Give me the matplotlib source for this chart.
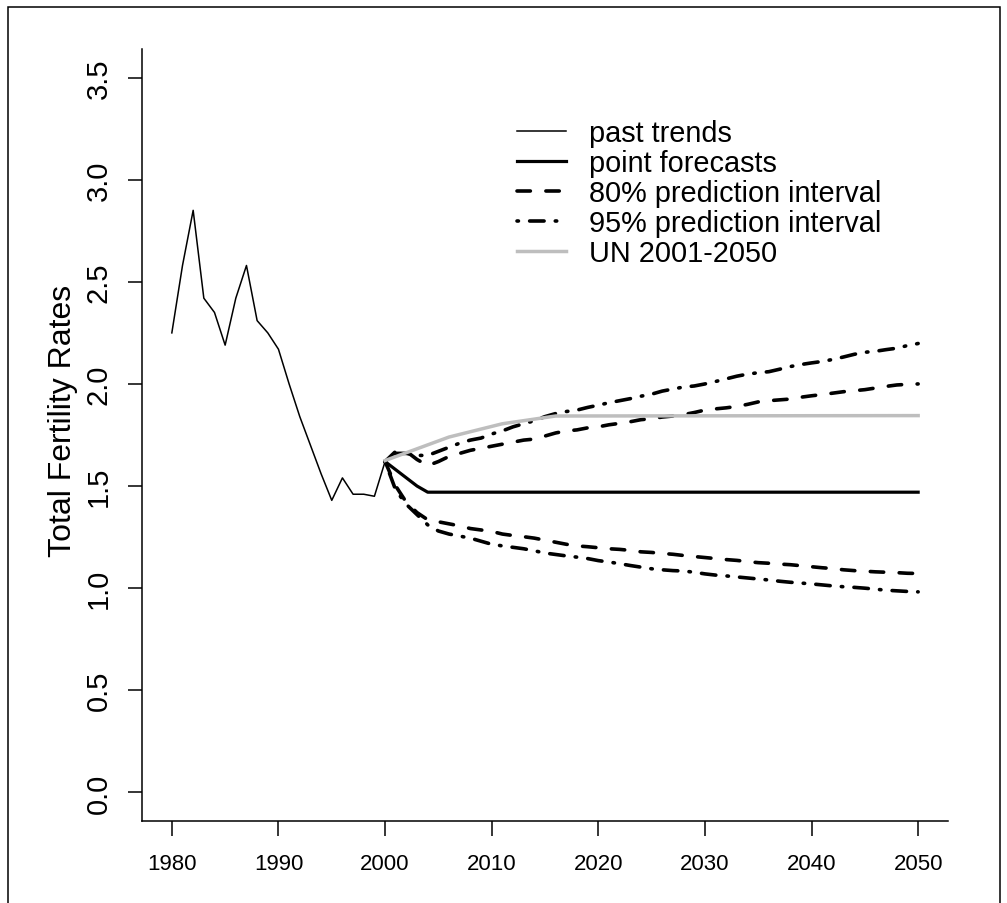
import matplotlib
matplotlib.use("Agg")
import matplotlib.pyplot as plt
from matplotlib.patches import Rectangle

plt.rcParams['font.family'] = ['Liberation Sans', 'DejaVu Sans']

# past trends 1980-2000
past_years = list(range(1980, 2001))
past_tfr = [2.25, 2.58, 2.85, 2.42, 2.35, 2.19, 2.42, 2.58, 2.31, 2.25,
            2.17, 2.00, 1.84, 1.70, 1.56, 1.43, 1.54, 1.46, 1.46, 1.45, 1.62]

# point forecasts
pf_years = [2000, 2001, 2002, 2003, 2004, 2050]
pf_tfr = [1.62, 1.58, 1.54, 1.50, 1.47, 1.47]

# UN 2001-2050
un_years = [2000, 2006, 2011, 2016, 2050]
un_tfr = [1.625, 1.74, 1.805, 1.843, 1.845]

fc_years = list(range(2000, 2051))
up80 = [1.62, 1.67, 1.67, 1.63, 1.60, 1.62, 1.645, 1.66, 1.675, 1.685,
        1.695, 1.705, 1.715, 1.725, 1.73, 1.745, 1.76, 1.77, 1.775, 1.785,
        1.79, 1.80, 1.807, 1.815, 1.825, 1.83, 1.838, 1.843, 1.85, 1.86,
        1.872, 1.878, 1.883, 1.89, 1.90, 1.912, 1.918, 1.922, 1.926, 1.935,
        1.942, 1.948, 1.955, 1.962, 1.967, 1.972, 1.98, 1.988, 1.995, 1.998,
        2.0]
up95 = [1.62, 1.66, 1.66, 1.65, 1.65, 1.67, 1.69, 1.71, 1.725, 1.735,
        1.755, 1.77, 1.79, 1.805, 1.82, 1.84, 1.855, 1.865, 1.872, 1.885,
        1.896, 1.908, 1.918, 1.928, 1.94, 1.95, 1.965, 1.975, 1.985, 1.99,
        2.0, 2.012, 2.025, 2.038, 2.048, 2.055, 2.06, 2.072, 2.085, 2.095,
        2.103, 2.11, 2.12, 2.132, 2.145, 2.155, 2.16, 2.168, 2.175, 2.188,
        2.198]
lo80 = [1.62, 1.50, 1.42, 1.37, 1.335, 1.325, 1.315, 1.305, 1.292, 1.285,
        1.278, 1.265, 1.258, 1.252, 1.245, 1.235, 1.225, 1.215, 1.207, 1.203,
        1.198, 1.193, 1.19, 1.185, 1.178, 1.175, 1.17, 1.166, 1.16, 1.155,
        1.15, 1.145, 1.14, 1.136, 1.13, 1.125, 1.122, 1.118, 1.115, 1.11,
        1.105, 1.10, 1.096, 1.09, 1.086, 1.083, 1.08, 1.078, 1.076, 1.073,
        1.072]
lo95 = [1.62, 1.48, 1.41, 1.36, 1.31, 1.28, 1.265, 1.255, 1.245, 1.23,
        1.215, 1.207, 1.20, 1.193, 1.183, 1.172, 1.165, 1.158, 1.152, 1.145,
        1.135, 1.128, 1.12, 1.111, 1.103, 1.095, 1.09, 1.086, 1.084, 1.078,
        1.07, 1.064, 1.06, 1.055, 1.05, 1.045, 1.04, 1.034, 1.029, 1.025,
        1.021, 1.016, 1.011, 1.007, 1.004, 1.0, 0.995, 0.99, 0.987, 0.984,
        0.982]

x_ticks = [1980, 1990, 2000, 2010, 2020, 2030, 2040, 2050]
y_ticks = [0.0, 0.5, 1.0, 1.5, 2.0, 2.5, 3.0, 3.5]

fig = plt.figure(figsize=(10.07, 9.04), dpi=100)
ax = fig.add_axes([0.141, 0.0907, 0.8004, 0.854])

ax.plot(past_years, past_tfr, color='black', lw=1.1, label='past trends')
ax.plot(pf_years, pf_tfr, color='black', lw=2.3, label='point forecasts')
ax.plot(fc_years, up80, color='black', lw=2.6, dashes=(3.7, 4.3),
        dash_capstyle='round', label='80% prediction interval')
ax.plot(fc_years, lo80, color='black', lw=2.6, dashes=(3.7, 4.3),
        dash_capstyle='round')
ax.plot(fc_years, up95, color='black', lw=2.6, dashes=(0.4, 3.1, 4, 3.1),
        dash_capstyle='round', label='95% prediction interval')
ax.plot(fc_years, lo95, color='black', lw=2.6, dashes=(0.4, 3.1, 4, 3.1),
        dash_capstyle='round')
ax.plot(un_years, un_tfr, color='#bebebe', lw=2.5, label='UN 2001-2050')

ax.set_xlim(1977.2, 2052.8)
ax.set_ylim(-0.14, 3.64)
ax.set_xticks(x_ticks)
ax.set_yticks(y_ticks)
ax.set_yticklabels(['%.1f' % v for v in y_ticks])
ax.tick_params(axis='x', length=11, width=1.1, pad=12, labelsize=16)
ax.tick_params(axis='y', length=10, width=1.1, pad=11, labelsize=21)
plt.setp(ax.get_yticklabels(), rotation=90, va='center')
ax.spines['top'].set_visible(False)
ax.spines['right'].set_visible(False)
ax.spines['left'].set_linewidth(1.1)
ax.spines['bottom'].set_linewidth(1.1)
ax.set_ylabel('Total Fertility Rates', fontsize=23)
ax.yaxis.set_label_coords(-0.08, 0.52)

ax.legend(loc='upper left', bbox_to_anchor=(0.513, 0.8675),
          bbox_transform=fig.transFigure, frameon=False, fontsize=20.8,
          handlelength=1.7, handletextpad=0.82, labelspacing=0.07,
          borderpad=0, borderaxespad=0)

fig.patches.append(Rectangle((0.0079, -0.0066), 0.985, 0.9978,
                             transform=fig.transFigure, fill=False,
                             edgecolor='black', lw=1.1))

fig.savefig('out.png', dpi=100)
